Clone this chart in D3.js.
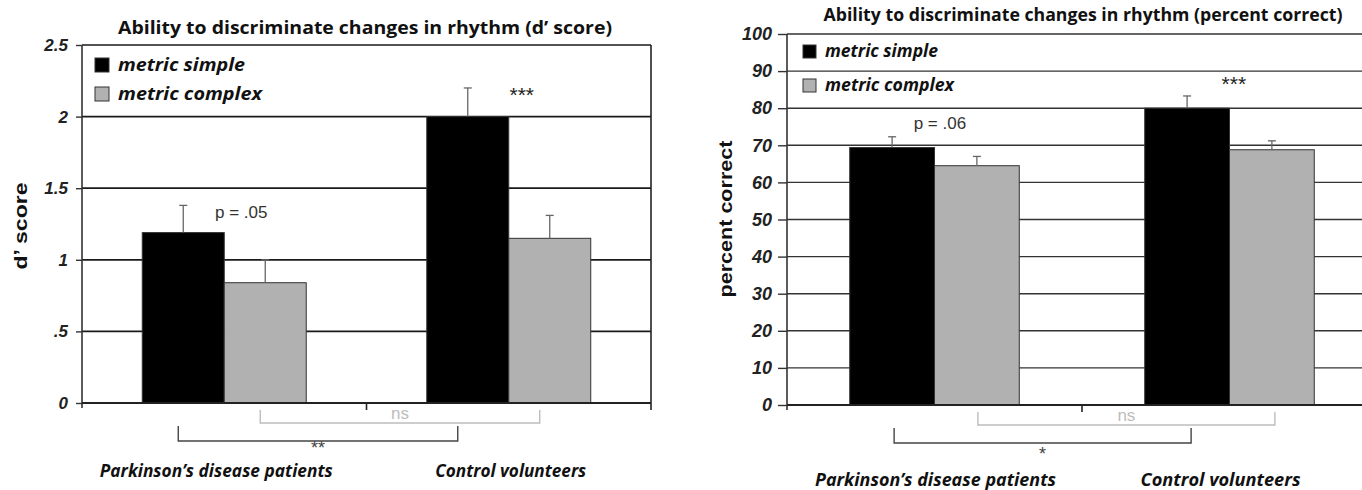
<!DOCTYPE html>
<html>
<head>
<meta charset="utf-8">
<script src="https://cdn.jsdelivr.net/npm/d3@7"></script>
<style>
  html, body { margin: 0; padding: 0; background: #fff; }
  svg { display: block; }
</style>
</head>
<body>
<svg id="chart" width="1362" height="490"></svg>
<script>
// Groups and conditions shared by both panels
const groups = ["Parkinson\u2019s disease patients", "Control volunteers"];
const conditions = ["metric simple", "metric complex"];

// d' score panel
const dScoreSimple = [1.19, 2.0];
const dScoreComplex = [0.84, 1.15];
const dScoreSimpleErr = [0.19, 0.2];
const dScoreComplexErr = [0.16, 0.16];
const dScoreTicks = [0, 0.5, 1, 1.5, 2, 2.5];
const dScoreTickLabels = ["0", ".5", "1", "1.5", "2", "2.5"];

// percent correct panel
const pctSimple = [69.4, 80.0];
const pctComplex = [64.5, 68.8];
const pctSimpleErr = [2.9, 3.3];
const pctComplexErr = [2.5, 2.4];
const pctTicks = [0, 10, 20, 30, 40, 50, 60, 70, 80, 90, 100];
const pctTickLabels = pctTicks.map(String);

const svg = d3.select("#chart");
const barFill = { "metric simple": "#000", "metric complex": "#b1b1b1" };

function drawPanel(p) {
  const g = svg.append("g");
  const y = d3.scaleLinear().domain([0, p.max]).range([p.y0, p.y1]);
  const x0 = d3.scaleBand().domain(groups).range([p.xL, p.xR]).padding(0);
  const x1 = d3.scaleBand().domain(conditions).range([0, x0.bandwidth()])
    .paddingInner(0).paddingOuter(p.barPad);

  const rows = [];
  groups.forEach((grp, i) => {
    rows.push({ grp, cond: conditions[0], v: p.simple[i], e: p.simpleErr[i] });
    rows.push({ grp, cond: conditions[1], v: p.complex[i], e: p.complexErr[i] });
  });
  const cx = (grp, cond) => x0(grp) + x1(cond) + x1.bandwidth() / 2;

  // horizontal gridlines at each tick
  g.append("g").selectAll("line").data(p.ticks).join("line")
    .attr("x1", p.xL).attr("x2", p.gridEnd)
    .attr("y1", d => y(d)).attr("y2", d => y(d))
    .attr("stroke", p.gridColor).attr("stroke-width", p.gridWidth);

  // right frame line (d' panel only)
  if (p.frame) {
    g.append("line").attr("x1", p.xR).attr("x2", p.xR)
      .attr("y1", y(p.max)).attr("y2", y(0) + 7)
      .attr("stroke", "#222").attr("stroke-width", 1.6);
  }

  // y axis
  const yAxis = d3.axisLeft(y).tickValues(p.ticks)
    .tickFormat((d, i) => p.tickLabels[i]).tickSize(p.tickLen).tickPadding(p.tickPad);
  const ay = g.append("g").attr("transform", `translate(${p.xL},0)`).call(yAxis);
  ay.select(".domain").remove();
  ay.selectAll(".tick line").attr("stroke", "#333").attr("stroke-width", 1.4);
  ay.selectAll(".tick text")
    .attr("font-family", "'Liberation Sans', Arial, sans-serif")
    .attr("font-style", "italic").attr("font-weight", "bold")
    .attr("font-size", p.tickFont).attr("fill", "#222");
  g.append("line").attr("x1", p.xL).attr("x2", p.xL)
    .attr("y1", y(p.max)).attr("y2", y(0) + 5)
    .attr("stroke", "#333").attr("stroke-width", 1.6);

  // bars
  g.append("g").selectAll("rect").data(rows).join("rect")
    .attr("x", d => x0(d.grp) + x1(d.cond))
    .attr("width", x1.bandwidth())
    .attr("y", d => y(d.v))
    .attr("height", d => y(0) - y(d.v))
    .attr("fill", d => barFill[d.cond])
    .attr("stroke", "#333").attr("stroke-width", 1);

  // error bars (upper whisker with cap)
  const eb = g.append("g").attr("stroke", "#666").attr("stroke-width", 1.3);
  eb.selectAll("line.v").data(rows).join("line").attr("class", "v")
    .attr("x1", d => cx(d.grp, d.cond)).attr("x2", d => cx(d.grp, d.cond))
    .attr("y1", d => y(d.v)).attr("y2", d => y(d.v + d.e));
  eb.selectAll("line.c").data(rows).join("line").attr("class", "c")
    .attr("x1", d => cx(d.grp, d.cond) - 4).attr("x2", d => cx(d.grp, d.cond) + 4)
    .attr("y1", d => y(d.v + d.e)).attr("y2", d => y(d.v + d.e));

  // x axis baseline and centre tick
  g.append("line").attr("x1", p.xL).attr("x2", p.gridEnd)
    .attr("y1", y(0)).attr("y2", y(0))
    .attr("stroke", "#222").attr("stroke-width", 1.8);
  g.append("line").attr("x1", x0(groups[1])).attr("x2", x0(groups[1]))
    .attr("y1", y(0)).attr("y2", y(0) + 7)
    .attr("stroke", "#222").attr("stroke-width", 1.6);

  // title
  g.append("text").attr("x", p.titleX).attr("y", p.titleY)
    .attr("text-anchor", "middle")
    .attr("font-family", "'Open Sans', sans-serif").attr("font-weight", "bold")
    .attr("font-size", p.titleFont).attr("fill", "#111")
    .attr("textLength", p.titleLen).attr("lengthAdjust", "spacingAndGlyphs")
    .text(p.title);

  // y axis label
  g.append("text")
    .attr("transform", `translate(${p.ylabX},${p.ylabY}) rotate(-90)`)
    .attr("text-anchor", "middle")
    .attr("font-family", "'Liberation Sans', Arial, sans-serif").attr("font-weight", "bold")
    .attr("font-size", 18).attr("fill", "#111")
    .attr("textLength", p.ylabLen).attr("lengthAdjust", "spacingAndGlyphs")
    .text(p.ylab);

  // legend
  const lg = g.append("g");
  conditions.forEach((c, i) => {
    lg.append("rect").attr("x", p.legX).attr("y", p.legY + i * p.legStep)
      .attr("width", p.legBox).attr("height", p.legBox)
      .attr("fill", barFill[c]).attr("stroke", "#333").attr("stroke-width", 1);
    lg.append("text").attr("x", p.legX + p.legBox + 9).attr("y", p.legY + i * p.legStep + p.legBox - 1)
      .attr("font-family", "'Open Sans', sans-serif").attr("font-weight", "bold")
      .attr("font-style", "italic").attr("font-size", 18).attr("fill", "#111")
      .attr("textLength", p.legLen[i]).attr("lengthAdjust", "spacingAndGlyphs")
      .text(c);
  });

  // significance labels above bars
  g.append("text").attr("x", cx(groups[0], conditions[1]) + p.pDx).attr("y", y(p.pY))
    .attr("text-anchor", "middle")
    .attr("font-family", "'Liberation Sans', Arial, sans-serif")
    .attr("font-size", 17).attr("fill", "#333").text(p.pText);
  g.append("text").attr("x", cx(groups[1], conditions[1]) + p.starDx).attr("y", y(p.starY))
    .attr("text-anchor", "middle")
    .attr("font-family", "'Liberation Sans', Arial, sans-serif")
    .attr("font-size", 21).attr("fill", "#222").text("***");

  // brackets under the axis
  const base = y(0);
  function bracket(xa, xb, top, bot, color, label, labelY, size) {
    g.append("path")
      .attr("d", `M${xa},${base + top}V${base + bot}H${xb}V${base + top}`)
      .attr("fill", "none").attr("stroke", color).attr("stroke-width", 1.4);
    g.append("text").attr("x", (xa + xb) / 2).attr("y", base + labelY)
      .attr("text-anchor", "middle")
      .attr("font-family", "'Liberation Sans', Arial, sans-serif")
      .attr("font-size", size).attr("fill", color).text(label);
  }
  bracket(cx(groups[0], conditions[1]) + p.nsOff[0], cx(groups[1], conditions[1]) + p.nsOff[1],
    7, 20, "#bdbdbd", "ns", 16, 17);
  bracket(cx(groups[0], conditions[0]) + p.sigOff[0], cx(groups[1], conditions[0]) + p.sigOff[1],
    23, 38, "#444", p.sigText, p.sigLabelY, 18);

  // group labels
  groups.forEach((grp, i) => {
    g.append("text").attr("x", x0(grp) + x0.bandwidth() / 2 + p.catDx[i]).attr("y", p.catY)
      .attr("text-anchor", "middle")
      .attr("font-family", "'Open Sans', sans-serif").attr("font-weight", "bold")
      .attr("font-style", "italic").attr("font-size", 17).attr("fill", "#111")
      .attr("textLength", p.catLen[i]).attr("lengthAdjust", "spacingAndGlyphs")
      .text(grp);
  });
}

drawPanel({
  max: 2.5, y0: 403, y1: 45, xL: 82, xR: 651, gridEnd: 651, frame: true,
  barPad: 0.735,
  simple: dScoreSimple, complex: dScoreComplex,
  simpleErr: dScoreSimpleErr, complexErr: dScoreComplexErr,
  ticks: dScoreTicks, tickLabels: dScoreTickLabels,
  tickLen: 6, tickPad: 8, tickFont: 17,
  gridColor: "#1a1a1a", gridWidth: 1.7,
  title: "Ability to discriminate changes in rhythm (d\u2019 score)",
  titleX: 365, titleY: 34, titleFont: 18, titleLen: 494,
  ylab: "d\u2019 score", ylabX: 27, ylabY: 226, ylabLen: 87,
  legX: 95, legY: 58, legBox: 14, legStep: 29, legLen: [127, 144],
  pText: "p = .05", pDx: -24, pY: 1.29,
  starDx: -28, starY: 2.1,
  nsOff: [-5, -10], sigOff: [-5, -10], sigText: "**", sigLabelY: 51,
  catY: 477, catDx: [-8, 2], catLen: [233, 151]
});

drawPanel({
  max: 100, y0: 405, y1: 34, xL: 787, xR: 1377, gridEnd: 1362, frame: false,
  barPad: 0.74,
  simple: pctSimple, complex: pctComplex,
  simpleErr: pctSimpleErr, complexErr: pctComplexErr,
  ticks: pctTicks, tickLabels: pctTickLabels,
  tickLen: 9, tickPad: 6, tickFont: 18,
  gridColor: "#333", gridWidth: 1.4,
  title: "Ability to discriminate changes in rhythm (percent correct)",
  titleX: 1083, titleY: 21, titleFont: 17, titleLen: 519,
  ylab: "percent correct", ylabX: 732, ylabY: 219, ylabLen: 157,
  legX: 803, legY: 45, legBox: 13, legStep: 34, legLen: [113, 129],
  pText: "p = .06", pDx: -37, pY: 74.3,
  starDx: -38, starY: 84.6,
  nsOff: [1, 3], sigOff: [2, 4], sigText: "*", sigLabelY: 55,
  catY: 486, catDx: [1, -9], catLen: [241, 160]
});
</script>
</body>
</html>
